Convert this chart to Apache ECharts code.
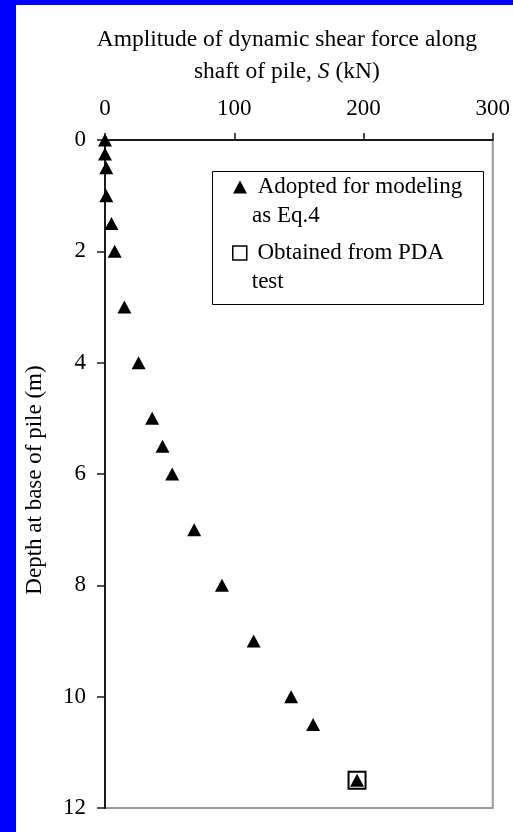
<!DOCTYPE html>
<html>
<head>
<meta charset="utf-8">
<script src="https://cdn.jsdelivr.net/npm/echarts@6/dist/echarts.min.js"></script>
<style>
  html, body { margin: 0; padding: 0; background: #ffffff; }
  #chart { width: 513px; height: 832px; }
</style>
</head>
<body>
<div id="chart"></div>
<script>
// Shear force amplitude S (kN) against depth at pile base (m)
const modelNames = ['Adopted for modeling\nas Eq.4'];
const pdaNames = ['Obtained from PDA\ntest'];

const modelShear = [0, 0, 1, 1, 5, 7.5, 15, 26, 36.5, 44.5, 52, 69, 90.5, 115, 144, 161, 195];
const modelDepth = [0, 0.25, 0.5, 1, 1.5, 2, 3, 4, 5, 5.5, 6, 7, 8, 9, 10, 10.5, 11.5];

const pdaShear = [195];
const pdaDepth = [11.5];

const shearTicks = [0, 100, 200, 300];
const depthTicks = [0, 2, 4, 6, 8, 10, 12];

const FONT = "'Liberation Serif', 'Times New Roman', serif";

const toPairs = (xs, ys) => xs.map((x, i) => [x, ys[i]]);

// legend entries: an empty first line keeps the marker level with the first text line
const legendText = { fontFamily: FONT, fontSize: 23, color: '#000', lineHeight: 29 };
const legendLabel = n => '\n ' + n;

const chart = echarts.init(document.getElementById('chart'));
chart.setOption({
  animation: false,
  backgroundColor: '#ffffff',
  textStyle: { fontFamily: FONT, color: '#000' },
  graphic: [
    { type: 'rect', left: 0, top: 0, shape: { width: 16, height: 832 }, style: { fill: '#0000ff' }, z: 10 },
    { type: 'rect', left: 0, top: 0, shape: { width: 513, height: 5 }, style: { fill: '#0000ff' }, z: 10 },
    { type: 'rect', shape: { x: 212.5, y: 171.5, width: 271, height: 133 },
      style: { fill: 'none', stroke: '#000', lineWidth: 1 }, z: 5 }
  ],
  grid: {
    left: 105, top: 140, right: 17, bottom: 24,
    show: true, borderColor: '#9a9a9a', borderWidth: 2, backgroundColor: 'transparent'
  },
  xAxis: {
    type: 'value',
    position: 'top',
    min: shearTicks[0],
    max: shearTicks[shearTicks.length - 1],
    interval: shearTicks[1] - shearTicks[0],
    name: 'Amplitude of dynamic shear force along\nshaft of pile, {i|S} (kN)',
    nameLocation: 'middle',
    nameGap: 52,
    nameTextStyle: {
      fontFamily: FONT, fontSize: 23.5, color: '#000', lineHeight: 32,
      padding: [0, 24, 0, 0],
      rich: { i: { fontFamily: FONT, fontSize: 23.5, fontStyle: 'italic', lineHeight: 32, color: '#000' } }
    },
    axisLine: { show: true, lineStyle: { color: '#1a1a1a', width: 2 } },
    axisTick: { show: true, length: 7, lineStyle: { color: '#1a1a1a', width: 1.5 } },
    axisLabel: { fontFamily: FONT, fontSize: 23, color: '#000', margin: 20, lineHeight: 23 },
    splitLine: { show: false }
  },
  yAxis: {
    type: 'value',
    inverse: true,
    min: depthTicks[0],
    max: depthTicks[depthTicks.length - 1],
    interval: depthTicks[1] - depthTicks[0],
    name: 'Depth at base of pile (m)',
    nameLocation: 'middle',
    nameGap: 59,
    nameTextStyle: { fontFamily: FONT, fontSize: 23, color: '#000', lineHeight: 23, padding: [0, 12, 0, 0] },
    axisLine: { show: true, lineStyle: { color: '#1a1a1a', width: 2 } },
    axisTick: { show: true, length: 8, lineStyle: { color: '#1a1a1a', width: 1.5 } },
    axisLabel: { fontFamily: FONT, fontSize: 23, color: '#000', margin: 19, lineHeight: 23, padding: [5, 0, 0, 0] },
    splitLine: { show: false }
  },
  legend: [
    {
      data: [{ name: modelNames[0], icon: 'triangle', itemStyle: { color: '#000', opacity: 1 } }],
      orient: 'vertical', left: 233, top: 187 - 43.5, padding: 0,
      itemWidth: 14, itemHeight: 13, selectedMode: false,
      formatter: legendLabel,
      textStyle: legendText
    },
    {
      data: [{ name: pdaNames[0], icon: 'rect', itemStyle: { color: '#fff', borderColor: '#000', borderWidth: 1.5, opacity: 1 } }],
      orient: 'vertical', left: 232, top: 253 - 43.5, padding: 0,
      itemWidth: 14, itemHeight: 14, selectedMode: false,
      formatter: legendLabel,
      textStyle: legendText
    }
  ],
  series: [
    {
      name: modelNames[0],
      type: 'scatter',
      symbol: 'triangle',
      symbolSize: [14, 13],
      itemStyle: { color: '#000', opacity: 1 },
      data: toPairs(modelShear, modelDepth),
      z: 2
    },
    {
      name: pdaNames[0],
      type: 'scatter',
      symbol: 'rect',
      symbolSize: 17,
      itemStyle: { color: 'transparent', borderColor: '#000', borderWidth: 2, opacity: 1 },
      data: toPairs(pdaShear, pdaDepth),
      z: 3
    }
  ]
});
</script>
</body>
</html>
